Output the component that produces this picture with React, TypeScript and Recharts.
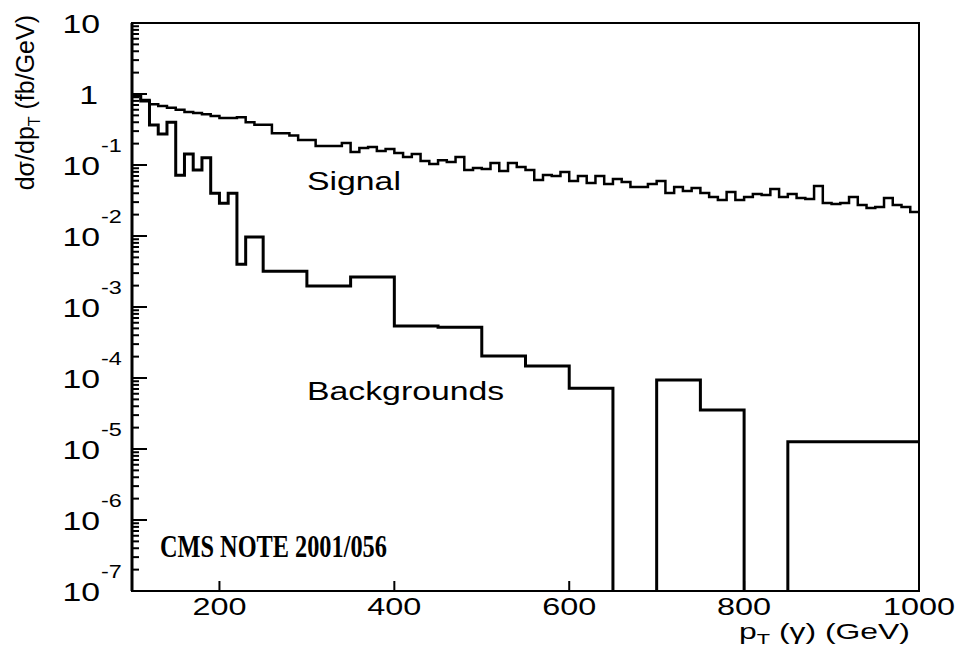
import { LineChart, Line, XAxis, YAxis } from "recharts";

// signal: 10 GeV bins, 100 -> 1000 GeV (fb/GeV)
const signalFirstEdge = 100;
const signalBinWidth = 10;
const signalValues = [
  0.97, 0.82, 0.72, 0.68, 0.64, 0.6, 0.56, 0.54, 0.52, 0.49,
  0.46, 0.46, 0.47, 0.4, 0.37, 0.37, 0.28, 0.28, 0.26, 0.225,
  0.225, 0.185, 0.185, 0.185, 0.204, 0.152, 0.173, 0.179, 0.157, 0.168,
  0.148, 0.13, 0.143, 0.114, 0.103, 0.117, 0.11, 0.13, 0.085, 0.091,
  0.088, 0.107, 0.082, 0.107, 0.094, 0.085, 0.0615, 0.0723, 0.07, 0.08,
  0.0596, 0.07, 0.0557, 0.07, 0.054, 0.0635, 0.0577, 0.049, 0.049, 0.054,
  0.0596, 0.0403, 0.049, 0.043, 0.0474, 0.0403, 0.0354, 0.0321, 0.0417, 0.0321,
  0.0354, 0.039, 0.0378, 0.0459, 0.0354, 0.039, 0.0343, 0.0332, 0.0506, 0.0292,
  0.0282, 0.0292, 0.0354, 0.0273, 0.0248, 0.0256, 0.0343, 0.0273, 0.0256, 0.0218,
];

// backgrounds: variable bin edges, 0 = empty bin
const bgEdges = [
  100, 110, 120, 130, 140, 150, 160, 170, 180, 190, 200, 210, 220, 230,
  250, 300, 350, 400, 450, 500, 550, 600, 650, 700, 750, 800, 850, 1000,
];
const bgValues = [
  0.95, 0.8, 0.366, 0.274, 0.4, 0.072, 0.143, 0.085, 0.126, 0.04,
  0.029, 0.04, 0.004, 0.0097, 0.0032, 0.00198, 0.00265, 0.00054, 0.00052, 0.000204,
  0.000148, 0.000072, 0, 0.000094, 0.0000354, 0, 0.0000126,
];

const xTicks = [200, 400, 600, 800, 1000];
const yExponents = [-7, -6, -5, -4, -3, -2, -1, 0, 1];
const yMinorSteps = [2, 3, 4, 5, 6, 7, 8, 9];

const W = 960;
const H = 649;
const P = { left: 132, top: 23, right: 919, bottom: 591 };
const FONT = "'Liberation Sans', Arial, sans-serif";
const SX = 1.3; // the original text is stretched horizontally

// histogram as step line: one point per low edge, plus the last edge
function toSteps(edges: number[], values: number[]) {
  const pts = values.map((v, i) => ({ x: edges[i], y: v > 0 ? v : 1e-9 }));
  const last = values[values.length - 1];
  pts.push({ x: edges[edges.length - 1], y: last > 0 ? last : 1e-9 });
  return pts;
}

const signalEdges = [...signalValues.map((_, i) => signalFirstEdge + i * signalBinWidth), 1000];
const signalData = toSteps(signalEdges, signalValues);
const bgData = toSteps(bgEdges, bgValues);

const yTicks: number[] = [];
yExponents.forEach((e) => {
  yTicks.push(Math.pow(10, e));
  if (e < 1) yMinorSteps.forEach((m) => yTicks.push(m * Math.pow(10, e)));
});

function Txt({ x, y, sx = SX, anchor = "start", size = 26, children, ...rest }: any) {
  return (
    <text
      transform={`translate(${x},${y}) scale(${sx},1)`}
      textAnchor={anchor}
      fontFamily={FONT}
      fontSize={size}
      fill="#000"
      {...rest}
    >
      {children}
    </text>
  );
}

function YTick({ y, payload }: any) {
  const v = payload.value;
  const lg = Math.log10(v);
  const e = Math.round(lg);
  const major = Math.abs(lg - e) < 1e-6;
  return (
    <g>
      <line x1={P.left} x2={P.left + (major ? 15 : 7)} y1={y} y2={y} stroke="#000" strokeWidth={2} />
      {major && e === 1 && <Txt x={100} y={y + 10} anchor="end">10</Txt>}
      {major && e === 0 && <Txt x={98} y={y + 10} anchor="end">1</Txt>}
      {major && e < 0 && (
        <g>
          <Txt x={100} y={y + 10} anchor="end">10</Txt>
          <Txt x={101} y={y - 13} size={18}>{String(e)}</Txt>
        </g>
      )}
    </g>
  );
}

function XTick({ x, payload }: any) {
  return (
    <g>
      {payload.value < 1000 && (
        <line x1={x} x2={x} y1={P.bottom} y2={P.bottom - 10} stroke="#000" strokeWidth={2} />
      )}
      <Txt x={x} y={P.bottom + 24} anchor="middle" size={24} sx={1.35}>{payload.value}</Txt>
    </g>
  );
}

export default function App() {
  return (
    <div style={{ position: "absolute", left: 0, top: 0, width: W, height: H, background: "#fff" }}>
      <LineChart
        width={W}
        height={H}
        margin={{ top: P.top, right: W - P.right, left: 0, bottom: 0 }}
      >
        <XAxis
          dataKey="x"
          type="number"
          domain={[100, 1000]}
          ticks={xTicks}
          allowDataOverflow
          axisLine={false}
          tickLine={false}
          tickSize={0}
          tickMargin={0}
          height={H - P.bottom}
          tick={<XTick />}
          interval={0}
        />
        <YAxis
          dataKey="y"
          scale="log"
          domain={[1e-7, 10]}
          ticks={yTicks}
          allowDataOverflow
          axisLine={false}
          tickLine={false}
          tickSize={0}
          tickMargin={0}
          width={P.left}
          tick={<YTick />}
          interval={0}
        />
        <Line
          data={signalData}
          dataKey="y"
          type="stepAfter"
          stroke="#000"
          strokeWidth={2.5}
          dot={false}
          isAnimationActive={false}
        />
        <Line
          data={bgData}
          dataKey="y"
          type="stepAfter"
          stroke="#000"
          strokeWidth={3}
          dot={false}
          isAnimationActive={false}
        />
      </LineChart>
      <svg
        width={W}
        height={H}
        style={{ position: "absolute", left: 0, top: 0, pointerEvents: "none" }}
      >
        <rect
          x={P.left}
          y={P.top}
          width={P.right - P.left}
          height={P.bottom - P.top}
          fill="none"
          stroke="#000"
          strokeWidth={2}
        />
        <line x1={P.left} x2={P.left} y1={P.top} y2={P.bottom} stroke="#000" strokeWidth={3} />
        <Txt x={307} y={190}>Signal</Txt>
        <Txt x={307} y={400}>Backgrounds</Txt>
        <text
          transform="translate(160,557) scale(0.76,1)"
          fontFamily="'Liberation Serif', 'Times New Roman', serif"
          fontWeight="bold"
          fontSize={32}
          fill="#000"
        >
          CMS NOTE 2001/056
        </text>
        <Txt x={910} y={639} anchor="end" size={22} sx={1.45}>
          p<tspan dy={5} fontSize={15}>T</tspan>
          <tspan dy={-5}> (γ) (GeV)</tspan>
        </Txt>
        <text
          transform="translate(34,15) rotate(-90)"
          textAnchor="end"
          fontFamily={FONT}
          fontSize={25}
          fill="#000"
        >
          dσ/dp<tspan dy={6} fontSize={16}>T</tspan>
          <tspan dy={-6}> (fb/GeV)</tspan>
        </text>
      </svg>
    </div>
  );
}
